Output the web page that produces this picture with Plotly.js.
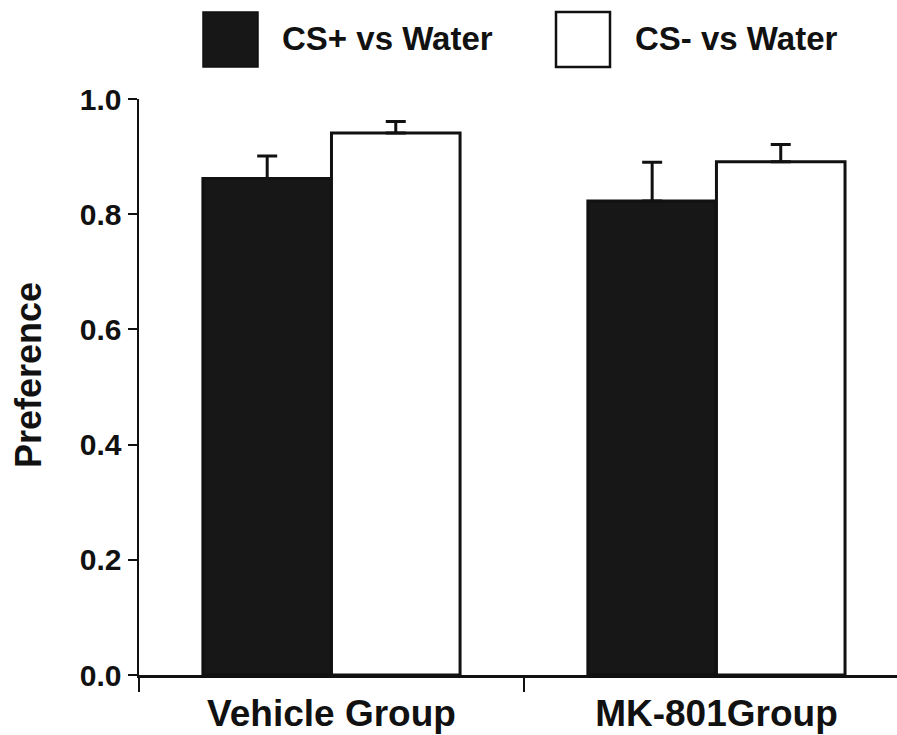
<!DOCTYPE html>
<html>
<head>
<meta charset="utf-8">
<script src="https://cdn.plot.ly/plotly-3.0.1.min.js"></script>
<style>html,body{margin:0;padding:0;background:#fff;}#chart{width:897px;height:735px;}</style>
</head>
<body>
<div id="chart"></div>
<script>
// Data
const groups = ["Vehicle Group", "MK-801Group"];
const seriesNames = ["CS+ vs Water", "CS- vs Water"];
const csPlus = [0.862, 0.823];
const csPlusErr = [0.039, 0.067];
const csMinus = [0.941, 0.891];
const csMinusErr = [0.020, 0.030];
const yTicks = [0, 0.2, 0.4, 0.6, 0.8, 1.0];
const yTickText = ["0.0", "0.2", "0.4", "0.6", "0.8", "1.0"];
const yTitle = "Preference";

const font = "Liberation Sans, Arial, Helvetica, sans-serif";
const ink = "#111111";

const traces = [
  {
    type: "bar", name: seriesNames[0], x: groups, y: csPlus,
    marker: {color: "#171717", line: {color: ink, width: 3}},
    error_y: {type: "data", symmetric: false, array: csPlusErr, arrayminus: [0, 0], color: ink, thickness: 3, width: 10}
  },
  {
    type: "bar", name: seriesNames[1], x: groups, y: csMinus,
    marker: {color: "#ffffff", line: {color: ink, width: 3}},
    error_y: {type: "data", symmetric: false, array: csMinusErr, arrayminus: [0, 0], color: ink, thickness: 3, width: 10}
  }
];

// Legend / title decoration positions in paper coordinates
const L = 139, W = 758, B = 675, H = 576;
const px = v => (v - L) / W;
const py = v => (B - v) / H;

const layout = {
  width: 897, height: 735,
  margin: {l: 139, r: 0, t: 99, b: 60},
  paper_bgcolor: "#fff", plot_bgcolor: "#fff",
  showlegend: false,
  barmode: "group", bargap: 0.332, bargroupgap: 0,
  font: {family: font, color: ink},
  xaxis: {
    type: "category", range: [-0.5, 1.469],
    showline: true, linecolor: ink, linewidth: 2.5,
    ticks: "outside", tickson: "boundaries", ticklen: 14, tickwidth: 2, tickcolor: ink,
    ticklabelstandoff: 4,
    showgrid: false, zeroline: false,
    tickfont: {family: font, size: 37, color: ink, weight: "bold"},
    fixedrange: true
  },
  yaxis: {
    range: [0, 1.0],
    tickvals: yTicks, ticktext: yTickText,
    showline: true, linecolor: ink, linewidth: 2.5,
    ticks: "outside", ticklen: 9, tickwidth: 2, tickcolor: ink,
    showgrid: false, zeroline: false,
    tickfont: {family: font, size: 30, color: ink, weight: "bold"},
    fixedrange: true
  },
  shapes: [
    {type: "rect", xref: "paper", yref: "paper", x0: px(203), x1: px(258), y0: py(67), y1: py(12),
     fillcolor: "#171717", line: {color: ink, width: 1.5}},
    {type: "rect", xref: "paper", yref: "paper", x0: px(556), x1: px(610), y0: py(67), y1: py(12),
     fillcolor: "#ffffff", line: {color: ink, width: 2.5}}
  ],
  annotations: [
    {xref: "paper", yref: "paper", x: px(280), y: py(38), xanchor: "left", yanchor: "middle", showarrow: false,
     text: seriesNames[0], font: {family: font, size: 33, color: ink, weight: "bold"}},
    {xref: "paper", yref: "paper", x: px(633), y: py(38), xanchor: "left", yanchor: "middle", showarrow: false,
     text: seriesNames[1], font: {family: font, size: 33, color: ink, weight: "bold"}},
    {xref: "paper", yref: "paper", x: px(28), y: py(375), xanchor: "center", yanchor: "middle", showarrow: false,
     textangle: -90, text: yTitle, font: {family: font, size: 36, color: ink, weight: "bold"}}
  ]
};

Plotly.newPlot("chart", traces, layout, {displayModeBar: false, staticPlot: true});
</script>
</body>
</html>
